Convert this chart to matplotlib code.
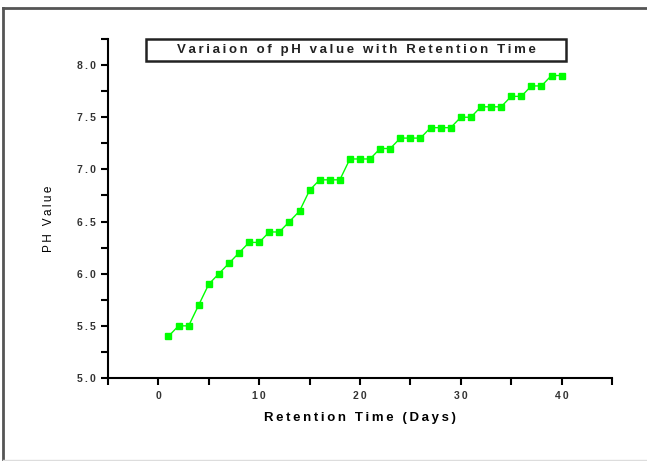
import matplotlib

matplotlib.use("Agg")
import matplotlib.pyplot as plt
from matplotlib.lines import Line2D
from matplotlib.patches import Rectangle
from matplotlib.ticker import FuncFormatter, MultipleLocator

days = list(range(1, 41))
ph = [5.4, 5.5, 5.5, 5.7, 5.9, 6.0, 6.1, 6.2, 6.3, 6.3,
      6.4, 6.4, 6.5, 6.6, 6.8, 6.9, 6.9, 6.9, 7.1, 7.1,
      7.1, 7.2, 7.2, 7.3, 7.3, 7.3, 7.4, 7.4, 7.4, 7.5,
      7.5, 7.6, 7.6, 7.6, 7.7, 7.7, 7.8, 7.8, 7.9, 7.9]

title = "Variaion of pH value with Retention Time"
xlabel = "Retention Time (Days)"
ylabel = "PH Value"

plt.rcParams["font.family"] = ["Liberation Sans", "DejaVu Sans"]


def spaced(s):
    # the original export has wide letter spacing; thin spaces mimic it
    return "\u2009".join(s)


W, H = 647, 461
fig = plt.figure(figsize=(W / 100, H / 100), dpi=100)
ax = fig.add_axes([108 / W, 1 - 378 / H, (612 - 108) / W, (378 - 39) / H])

ax.plot(days, ph, color="#00ff00", lw=1, marker="s", ms=5, mec="#00ff00", mfc="#00ff00")

ax.set_xlim(-5, 45)
ax.set_ylim(5.0, 8.25)
ax.xaxis.set_major_locator(MultipleLocator(10))
ax.xaxis.set_minor_locator(MultipleLocator(5))
ax.yaxis.set_major_locator(MultipleLocator(0.5))
ax.yaxis.set_minor_locator(MultipleLocator(0.25))
ax.xaxis.set_major_formatter(FuncFormatter(lambda v, p: spaced(f"{v:.0f}")))
ax.yaxis.set_major_formatter(FuncFormatter(lambda v, p: spaced(f"{v:.1f}")))

for s in ("top", "right"):
    ax.spines[s].set_visible(False)
for s in ("left", "bottom"):
    ax.spines[s].set_linewidth(1.5)
ax.tick_params(which="both", direction="out", length=5, width=1.5, labelsize=7.5)
ax.tick_params(axis="x", pad=4)
for lab in ax.get_xticklabels() + ax.get_yticklabels():
    lab.set_fontweight("bold")
    lab.set_color("#333333")

ax.set_xlabel(spaced(xlabel), fontsize=9.5, fontweight="bold", labelpad=8)
ax.set_ylabel(spaced(ylabel), fontsize=8.5)
ax.yaxis.set_label_coords(-0.105, 0.47)

# title box
fig.patches.append(Rectangle((146 / W, 1 - 61 / H), 420 / W, 22 / H,
                             transform=fig.transFigure, fill=False,
                             ec="#222222", lw=1.8))
fig.text(356 / W, 1 - 50 / H, spaced(title), ha="center", va="center",
         fontsize=9.5, fontweight="bold", color="#222222")

# outer frame
fig.add_artist(Line2D([3 / W, 1], [1 - 8 / H, 1 - 8 / H], transform=fig.transFigure,
                      color="#555555", lw=2))
fig.add_artist(Line2D([3 / W, 3 / W], [0, 1 - 8 / H], transform=fig.transFigure,
                      color="#555555", lw=2))
fig.add_artist(Line2D([3 / W, 1], [1 / H, 1 / H], transform=fig.transFigure,
                      color="#dddddd", lw=1))

fig.savefig("out.png", dpi=100)
